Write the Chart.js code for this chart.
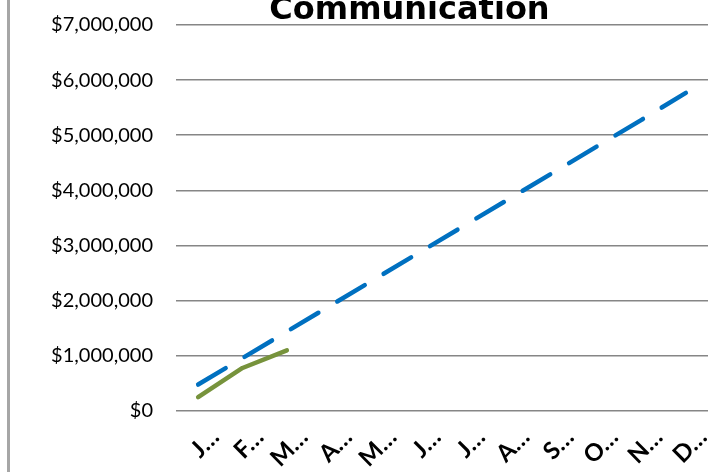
<!DOCTYPE html>
<html><head><meta charset="utf-8">
<script src="https://cdn.jsdelivr.net/npm/chart.js@4"></script>
<style>
html,body{margin:0;padding:0;background:#fff;overflow:hidden}
#wrap{position:relative;width:708px;height:472px;overflow:hidden;background:#fff}
#bar{position:absolute;left:7px;top:0;width:3px;height:472px;background:#a6a6a6}
canvas{position:absolute;left:0;top:0}
</style></head>
<body><div id="wrap"><canvas id="c" width="708" height="472" style="width:708px;height:472px"></canvas><div id="bar"></div></div>
<script>
const months = ["January","February","March","April","May","June","July","August","September","October","November","December"];
const monthTickLabels = ["J…","F…","M…","A…","M…","J…","J…","A…","S…","O…","N…","D…"];
const budgetSeries = [480000,960000,1440000,1920000,2400000,2880000,3360000,3840000,4320000,4800000,5280000,5770000];
const actualSeries = [250000,780000,1100000,null,null,null,null,null,null,null,null,null];
const yTickLabels = ["$0","$1,000,000","$2,000,000","$3,000,000","$4,000,000","$5,000,000","$6,000,000","$7,000,000"];

// the title in the reference is centred a little right of the canvas centre
const titleShift = {
  id:'titleShift',
  afterLayout(chart){
    const t = chart.titleBlock;
    if (!t) return;
    t.left = chart.chartArea.left - 65;
    t.right = chart.chartArea.right;
    t.width = t.right - t.left;
  }
};

new Chart(document.getElementById('c'), {
  type: 'line',
  data: {
    labels: months,
    datasets: [
      {label:'Budget', data: budgetSeries, borderColor:'#0070C0', borderWidth:4.5, borderDash:[32,22], borderCapStyle:'round', pointRadius:0, tension:0, fill:false},
      {label:'Actual', data: actualSeries, borderColor:'#77933C', borderWidth:4.5, borderCapStyle:'round', borderJoinStyle:'round', pointRadius:0, tension:0, fill:false, spanGaps:false}
    ]
  },
  plugins:[titleShift],
  options: {
    responsive:false, animation:false,
    layout:{padding:{left:0,right:0,top:0,bottom:0}},
    plugins:{
      legend:{display:false}, tooltip:{enabled:false},
      title:{display:true, text:'Communication', color:'#000', font:{family:'DejaVu Sans', size:32, weight:'bold', lineHeight:0.5}, padding:{top:3,bottom:6}}
    },
    scales:{
      x:{
        offset:true,
        grid:{display:false, drawTicks:false},
        border:{display:false},
        ticks:{autoSkip:false, minRotation:45, maxRotation:45, padding:12, labelOffset:17, color:'#000', font:{family:'Lato', size:24, weight:'bold'},
          callback:(v,i)=>monthTickLabels[i]},
        afterFit:(s)=>{s.height=61; s.paddingLeft=0; s.paddingRight=0;}
      },
      y:{
        min:0, max:7000000,
        grid:{color:'#868686', lineWidth:1.6, drawTicks:false},
        border:{display:false},
        ticks:{stepSize:1000000, padding:23, color:'#000', font:{family:'Lato', size:20},
          callback:(v)=>yTickLabels[Math.round(v/1000000)]},
        afterFit:(s)=>{s.width=176; s.paddingTop=0; s.paddingBottom=0;}
      }
    }
  }
});
</script>
</body></html>
